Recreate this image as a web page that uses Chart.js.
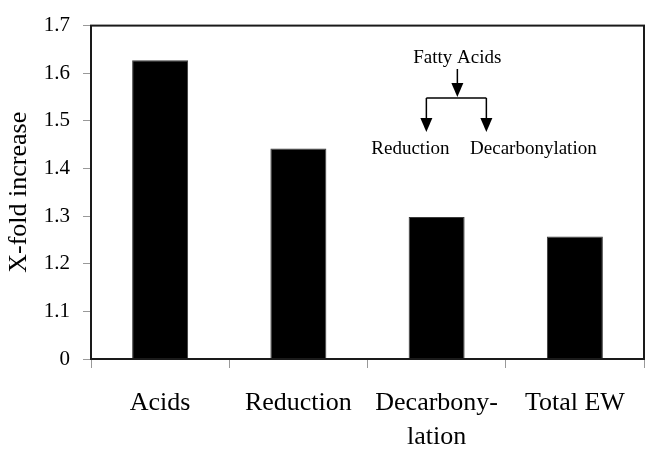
<!DOCTYPE html>
<html>
<head>
<meta charset="utf-8">
<script src="https://cdn.jsdelivr.net/npm/chart.js@4/dist/chart.umd.min.js"></script>
<style>
  html, body { margin: 0; padding: 0; background: #fff; }
  #wrap { width: 650px; height: 456px; }
</style>
</head>
<body>
<div id="wrap"><canvas id="c" width="650" height="456"></canvas></div>
<script>
const categories = ['Acids', 'Reduction', ['Decarbony-', 'lation'], 'Total EW'];
const foldIncrease = [1.627, 1.442, 1.298, 1.257];
const yTickLabels = { '1': '0', '1.1': '1.1', '1.2': '1.2', '1.3': '1.3', '1.4': '1.4', '1.5': '1.5', '1.6': '1.6', '1.7': '1.7' };
const yAxisTitle = 'X-fold increase';
const schemeRoot = 'Fatty Acids';
const schemeBranches = ['Reduction', 'Decarbonylation'];

const FONT = "'Liberation Serif', 'Times New Roman', serif";

const framePlugin = {
  id: 'frame',
  afterDatasetsDraw(chart) {
    const { ctx, chartArea: a } = chart;
    ctx.save();
    ctx.strokeStyle = '#1a1a1a';
    ctx.lineWidth = 2;
    ctx.strokeRect(a.left, a.top, a.right - a.left, a.bottom - a.top);
    ctx.restore();
  }
};

const schemePlugin = {
  id: 'scheme',
  afterDraw(chart) {
    const { ctx } = chart;
    const xs = chart.scales.x, ys = chart.scales.y;
    const cx = xs.getPixelForValue(2.15);
    const cy = ys.getPixelForValue(1.632);
    ctx.save();
    ctx.fillStyle = '#000';
    ctx.strokeStyle = '#000';
    ctx.lineWidth = 1.5;
    ctx.font = '19px ' + FONT;
    ctx.textAlign = 'center';
    ctx.textBaseline = 'middle';
    ctx.fillText(schemeRoot, cx, cy);
    const arrow = (x, y0, y1) => {
      ctx.beginPath();
      ctx.moveTo(x, y0);
      ctx.lineTo(x, y1 - 12);
      ctx.stroke();
      ctx.beginPath();
      ctx.moveTo(x - 6, y1 - 14);
      ctx.lineTo(x + 6, y1 - 14);
      ctx.lineTo(x, y1);
      ctx.closePath();
      ctx.fill();
    };
    arrow(cx, cy + 11, cy + 39);
    const hy = cy + 40;
    ctx.beginPath();
    ctx.moveTo(cx - 31, hy);
    ctx.lineTo(cx + 29, hy);
    ctx.stroke();
    arrow(cx - 31, hy, cy + 74);
    arrow(cx + 29, hy, cy + 74);
    ctx.fillText(schemeBranches[0], cx - 47, cy + 91);
    ctx.fillText(schemeBranches[1], cx + 76, cy + 91);
    ctx.restore();
  }
};

new Chart(document.getElementById('c'), {
  type: 'bar',
  data: {
    labels: categories,
    datasets: [{
      data: foldIncrease,
      backgroundColor: '#000',
      borderColor: '#3a3a3a',
      borderWidth: 1,
      barPercentage: 0.405,
      categoryPercentage: 1.0
    }]
  },
  options: {
    responsive: false,
    animation: false,
    devicePixelRatio: 1,
    layout: { padding: { top: 25, right: 6, left: 0, bottom: 0 } },
    plugins: { legend: { display: false }, tooltip: { enabled: false } },
    scales: {
      x: {
        offset: true,
        grid: { display: true, drawOnChartArea: false, drawTicks: true, tickLength: 9, tickColor: '#999', offset: true },
        border: { display: false },
        ticks: { color: '#000', font: { family: FONT, size: 26, lineHeight: 1.3 }, padding: 18, maxRotation: 0, autoSkip: false },
        afterFit(scale) { scale.height = 97; }
      },
      y: {
        min: 1.0,
        max: 1.7,
        grid: { display: true, drawOnChartArea: false, drawTicks: true, tickLength: 8, tickColor: '#999' },
        border: { display: false },
        ticks: {
          stepSize: 0.1,
          color: '#000',
          font: { family: FONT, size: 21 },
          padding: 13,
          callback(v) { const k = String(Math.round(v * 10) / 10); return yTickLabels[k] !== undefined ? yTickLabels[k] : ''; }
        },
        title: { display: true, text: yAxisTitle, color: '#000', font: { family: FONT, size: 26 }, padding: { top: 4, bottom: 0 } },
        afterFit(scale) { scale.width = 91; }
      }
    }
  },
  plugins: [framePlugin, schemePlugin]
});
</script>
</body>
</html>
